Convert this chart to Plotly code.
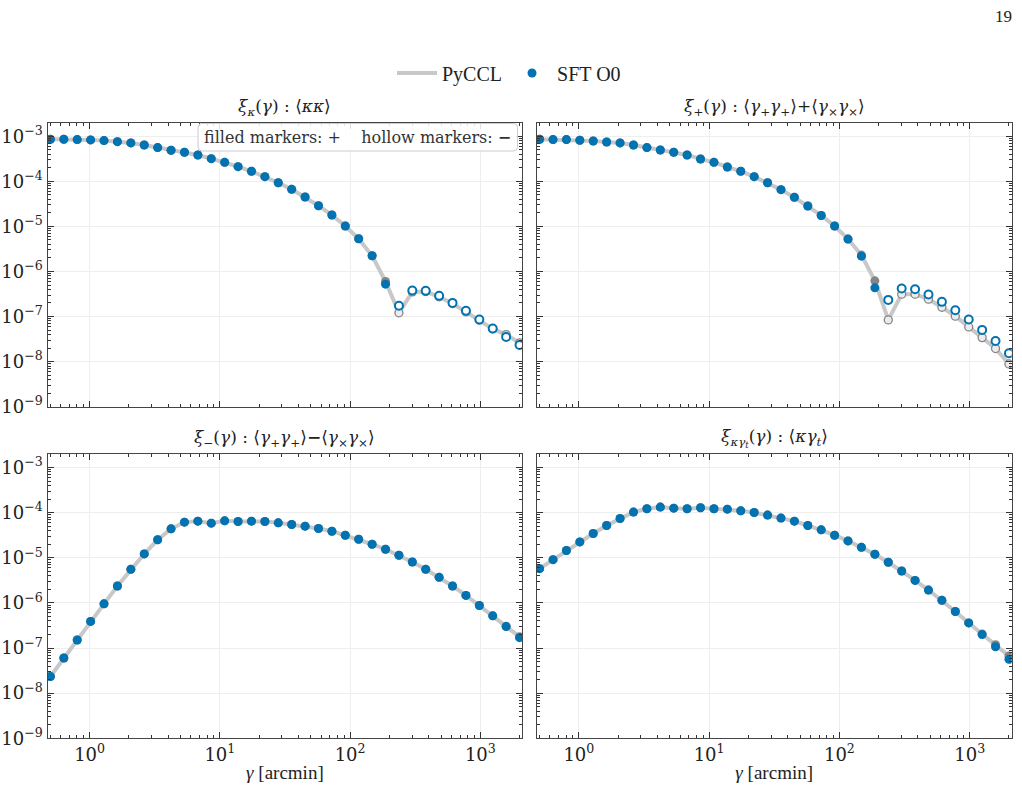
import plotly.graph_objects as go

# ---------------- data ----------------
theta_arcmin = [0.500, 0.634, 0.803, 1.018, 1.290, 1.635, 2.073, 2.627, 3.330,
                4.221, 5.349, 6.779, 8.591, 10.89, 13.80, 17.49, 22.17, 28.09,
                35.61, 45.13, 57.20, 72.49, 91.88, 116.4, 147.6, 187.1, 237.1,
                300.5, 380.8, 482.6, 611.7, 775.3, 982.6, 1245.0, 1578.0, 2000.0]

xi_kappa_pyccl = [8.57e-4, 8.57e-4, 8.43e-4, 8.30e-4, 8.02e-4, 7.60e-4, 7.11e-4, 6.41e-4, 5.60e-4,
                  4.89e-4, 4.41e-4, 3.85e-4, 3.19e-4, 2.64e-4, 2.12e-4, 1.67e-4, 1.27e-4, 9.33e-5,
                  6.64e-5, 4.49e-5, 2.88e-5, 1.79e-5, 1.02e-5, 5.32e-6, 2.23e-6, 6.00e-7, -1.21e-7,
                  -3.53e-7, -3.60e-7, -2.74e-7, -1.95e-7, -1.27e-7, -8.30e-8, -5.32e-8, -3.98e-8, -2.60e-8]
xi_kappa_sft = [8.57e-4, 8.57e-4, 8.43e-4, 8.30e-4, 8.02e-4, 7.60e-4, 7.11e-4, 6.41e-4, 5.60e-4,
                4.89e-4, 4.41e-4, 3.85e-4, 3.19e-4, 2.64e-4, 2.12e-4, 1.67e-4, 1.27e-4, 9.33e-5,
                6.64e-5, 4.49e-5, 2.88e-5, 1.79e-5, 1.02e-5, 5.32e-6, 2.23e-6, 5.24e-7, -1.73e-7,
                -3.79e-7, -3.72e-7, -2.88e-7, -2.01e-7, -1.34e-7, -8.57e-8, -5.41e-8, -3.53e-8, -2.34e-8]

xi_plus_pyccl = [8.57e-4, 8.43e-4, 8.43e-4, 8.15e-4, 7.87e-4, 7.48e-4, 7.11e-4, 6.41e-4, 5.60e-4,
                 4.97e-4, 4.41e-4, 3.85e-4, 3.13e-4, 2.64e-4, 2.08e-4, 1.67e-4, 1.27e-4, 9.33e-5,
                 6.53e-5, 4.41e-5, 2.83e-5, 1.75e-5, 1.02e-5, 5.24e-6, 2.31e-6, 6.21e-7, -8.43e-8,
                 -3.13e-7, -3.13e-7, -2.43e-7, -1.61e-7, -1.02e-7, -5.89e-8, -3.41e-8, -1.95e-8, -8.87e-9]
xi_plus_sft = [8.57e-4, 8.43e-4, 8.43e-4, 8.15e-4, 7.87e-4, 7.48e-4, 7.11e-4, 6.41e-4, 5.60e-4,
               4.97e-4, 4.41e-4, 3.85e-4, 3.13e-4, 2.64e-4, 2.08e-4, 1.67e-4, 1.27e-4, 9.33e-5,
               6.53e-5, 4.41e-5, 2.83e-5, 1.75e-5, 1.02e-5, 5.24e-6, 2.19e-6, 4.34e-7, -2.34e-7,
               -4.19e-7, -4.05e-7, -3.08e-7, -2.12e-7, -1.38e-7, -8.57e-8, -5.06e-8, -2.88e-8, -1.53e-8]

xi_minus_pyccl = [2.34e-8, 6.03e-8, 1.51e-7, 3.89e-7, 9.55e-7, 2.37e-6, 5.56e-6, 1.22e-5, 2.51e-5,
                  4.39e-5, 6.18e-5, 6.50e-5, 5.87e-5, 6.61e-5, 6.40e-5, 6.50e-5, 6.40e-5, 5.97e-5,
                  5.48e-5, 5.04e-5, 4.47e-5, 3.89e-5, 3.17e-5, 2.58e-5, 2.00e-5, 1.55e-5, 1.14e-5,
                  8.09e-6, 5.56e-6, 3.69e-6, 2.37e-6, 1.47e-6, 8.79e-7, 5.18e-7, 3.05e-7, 1.78e-7]
xi_minus_sft = [2.34e-8, 6.03e-8, 1.51e-7, 3.89e-7, 9.55e-7, 2.37e-6, 5.56e-6, 1.22e-5, 2.51e-5,
                4.39e-5, 6.18e-5, 6.50e-5, 5.87e-5, 6.61e-5, 6.40e-5, 6.50e-5, 6.40e-5, 5.97e-5,
                5.48e-5, 5.04e-5, 4.47e-5, 3.89e-5, 3.17e-5, 2.58e-5, 2.00e-5, 1.55e-5, 1.14e-5,
                8.09e-6, 5.56e-6, 3.69e-6, 2.37e-6, 1.47e-6, 8.79e-7, 5.18e-7, 2.99e-7, 1.70e-7]

xi_kgt_pyccl = [5.75e-6, 9.12e-6, 1.45e-5, 2.25e-5, 3.46e-5, 5.21e-5, 7.45e-5, 1.03e-4, 1.22e-4,
                1.33e-4, 1.26e-4, 1.22e-4, 1.29e-4, 1.22e-4, 1.20e-4, 1.10e-4, 1.01e-4, 8.85e-5,
                7.59e-5, 6.50e-5, 5.21e-5, 4.17e-5, 3.17e-5, 2.37e-5, 1.71e-5, 1.20e-5, 7.96e-6,
                5.11e-6, 3.16e-6, 1.93e-6, 1.14e-6, 6.46e-7, 3.61e-7, 2.06e-7, 1.19e-7, 6.65e-8]
xi_kgt_sft = [5.75e-6, 9.12e-6, 1.45e-5, 2.25e-5, 3.46e-5, 5.21e-5, 7.45e-5, 1.03e-4, 1.22e-4,
              1.33e-4, 1.26e-4, 1.22e-4, 1.29e-4, 1.22e-4, 1.20e-4, 1.10e-4, 1.01e-4, 8.85e-5,
              7.59e-5, 6.50e-5, 5.21e-5, 4.17e-5, 3.17e-5, 2.37e-5, 1.71e-5, 1.20e-5, 7.96e-6,
              5.11e-6, 3.16e-6, 1.93e-6, 1.14e-6, 6.46e-7, 3.61e-7, 1.99e-7, 1.07e-7, 5.62e-8]

panel_titles = ["<i>ξ</i><sub><i>κ</i></sub>(<i>γ</i>) : ⟨<i>κκ</i>⟩",
                "<i>ξ</i><sub>+</sub>(<i>γ</i>) : ⟨<i>γ</i><sub>+</sub><i>γ</i><sub>+</sub>⟩+⟨<i>γ</i><sub>×</sub><i>γ</i><sub>×</sub>⟩",
                "<i>ξ</i><sub>−</sub>(<i>γ</i>) : ⟨<i>γ</i><sub>+</sub><i>γ</i><sub>+</sub>⟩<b>−</b>⟨<i>γ</i><sub>×</sub><i>γ</i><sub>×</sub>⟩",
                "<i>ξ</i><sub><i>κγ<sub>t</sub></i></sub>(<i>γ</i>) : ⟨<i>κγ</i><sub><i>t</i></sub>⟩"]
x_label = "<i>γ</i> [arcmin]"
y_tick_vals = [1e-9, 1e-8, 1e-7, 1e-6, 1e-5, 1e-4, 1e-3]
y_tick_text = ["10<sup>−9</sup>", "10<sup>−8</sup>", "10<sup>−7</sup>", "10<sup>−6</sup>",
               "10<sup>−5</sup>", "10<sup>−4</sup>", "10<sup>−3</sup>"]
x_tick_vals = [1, 10, 100, 1000]
x_tick_text = ["10<sup>0</sup>", "10<sup>1</sup>", "10<sup>2</sup>", "10<sup>3</sup>"]
x_decades = [0.1, 1, 10, 100, 1000]
y_decades = [1e-10, 1e-9, 1e-8, 1e-7, 1e-6, 1e-5, 1e-4, 1e-3]
minor_steps = [2, 3, 4, 5, 6, 7, 8, 9]
x_minor = [d * m for d in x_decades for m in minor_steps]
y_minor = [d * m for d in y_decades for m in minor_steps]

# ---------------- styling ----------------
W, H = 1022, 788
BLUE = "#0173b2"
LINE_GRAY = "#c8c8c8"
DARK_GRAY = "#858585"
SERIF = "DejaVu Serif"
TIMES = "Liberation Serif"

def px_x(p):
    return p / W

def px_y(p):
    return 1 - p / H

panels = [
    dict(pyccl=xi_kappa_pyccl, sft=xi_kappa_sft, xd=(47.5, 522.3), yd=(122.7, 406.7)),
    dict(pyccl=xi_plus_pyccl, sft=xi_plus_sft, xd=(536.7, 1011.7), yd=(122.7, 406.7)),
    dict(pyccl=xi_minus_pyccl, sft=xi_minus_sft, xd=(47.5, 522.3), yd=(454.0, 738.3)),
    dict(pyccl=xi_kgt_pyccl, sft=xi_kgt_sft, xd=(536.7, 1011.7), yd=(454.0, 738.3)),
]

fig = go.Figure()

for i, p in enumerate(panels):
    n = "" if i == 0 else str(i + 1)
    xa, ya = "x" + n, "y" + n
    pyc, sft = p["pyccl"], p["sft"]
    first = (i == 0)
    fig.add_trace(go.Scatter(x=theta_arcmin, y=[abs(v) for v in pyc], mode="lines",
                             line=dict(color=LINE_GRAY, width=4), name="PyCCL",
                             showlegend=first, xaxis=xa, yaxis=ya, hoverinfo="skip"))
    fig.add_trace(go.Scatter(x=theta_arcmin, y=[v if v > 0 else None for v in pyc], mode="markers",
                             marker=dict(color=DARK_GRAY, size=9, line=dict(width=0)),
                             showlegend=False, xaxis=xa, yaxis=ya))
    fig.add_trace(go.Scatter(x=theta_arcmin, y=[-v if v < 0 else None for v in pyc], mode="markers",
                             marker=dict(color="#ececec", size=8, line=dict(color=DARK_GRAY, width=1.3)),
                             showlegend=False, xaxis=xa, yaxis=ya))
    fig.add_trace(go.Scatter(x=theta_arcmin, y=[v if v > 0 else None for v in sft], mode="markers",
                             marker=dict(color=BLUE, size=9, line=dict(width=0)), name="SFT O0",
                             showlegend=first, xaxis=xa, yaxis=ya))
    fig.add_trace(go.Scatter(x=theta_arcmin, y=[-v if v < 0 else None for v in sft], mode="markers",
                             marker=dict(color="white", size=8, line=dict(color=BLUE, width=2)),
                             showlegend=False, xaxis=xa, yaxis=ya))

    bottom = i >= 2
    left = i % 2 == 0
    axis_common = dict(type="log", ticks="inside", mirror="allticks", showline=True,
                       linecolor="#444444", linewidth=1.3, tickcolor="#333333",
                       ticklen=6, tickwidth=1.2, showgrid=True, gridcolor="#eeeeee",
                       gridwidth=1, zeroline=False,
                       tickfont=dict(family=SERIF, size=18, color="#222222"))
    fig.update_layout(**{
        ("xaxis" + n): dict(axis_common, domain=[px_x(p["xd"][0]), px_x(p["xd"][1])],
                            range=[-0.3233, 3.3222], anchor=ya, tickvals=x_tick_vals,
                            ticktext=x_tick_text, showticklabels=bottom,
                            minor=dict(ticks="inside", ticklen=3, tickwidth=1, tickcolor="#333333",
                                       tickvals=x_minor, showgrid=False),
                            title=dict(text=x_label if bottom else "",
                                       font=dict(family=TIMES, size=19, color="#222222"),
                                       standoff=1)),
        ("yaxis" + n): dict(axis_common, domain=[px_y(p["yd"][1]), px_y(p["yd"][0])],
                            range=[-9, -2.699], anchor=xa, tickvals=y_tick_vals,
                            ticktext=y_tick_text, showticklabels=left,
                            minor=dict(ticks="inside", ticklen=3, tickwidth=1, tickcolor="#333333",
                                       tickvals=y_minor, showgrid=False)),
    })
    fig.add_annotation(text=panel_titles[i], xref="paper", yref="paper",
                       x=px_x((p["xd"][0] + p["xd"][1]) / 2), y=px_y(p["yd"][0] - 2),
                       xanchor="center", yanchor="bottom", showarrow=False,
                       font=dict(family=SERIF, size=17, color="#222222"))

# sign-convention box in the first panel
bx0, by0, bx1, by1, r = 198.0, 123.5, 517.5, 151.0, 4.0
path = (f"M {px_x(bx0 + r)},{px_y(by0)} L {px_x(bx1 - r)},{px_y(by0)} "
        f"Q {px_x(bx1)},{px_y(by0)} {px_x(bx1)},{px_y(by0 + r)} "
        f"L {px_x(bx1)},{px_y(by1 - r)} Q {px_x(bx1)},{px_y(by1)} {px_x(bx1 - r)},{px_y(by1)} "
        f"L {px_x(bx0 + r)},{px_y(by1)} Q {px_x(bx0)},{px_y(by1)} {px_x(bx0)},{px_y(by1 - r)} "
        f"L {px_x(bx0)},{px_y(by0 + r)} Q {px_x(bx0)},{px_y(by0)} {px_x(bx0 + r)},{px_y(by0)} Z")
fig.add_shape(type="path", path=path, xref="paper", yref="paper",
              fillcolor="rgba(255,255,255,0.85)", line=dict(color="#cccccc", width=1), layer="above")
fig.add_annotation(text="filled markers: +    hollow markers: <b>−</b>", xref="paper", yref="paper",
                   x=px_x((bx0 + bx1) / 2), y=px_y((by0 + by1) / 2), xanchor="center", yanchor="middle",
                   showarrow=False, font=dict(family=SERIF, size=16, color="#333333"))

# page number
fig.add_annotation(text="19", xref="paper", yref="paper", x=px_x(1014), y=px_y(17),
                   xanchor="right", yanchor="middle", showarrow=False,
                   font=dict(family=TIMES, size=17, color="#222222"))

fig.update_layout(
    template="none", width=W, height=H,
    margin=dict(l=0, r=0, t=0, b=0),
    paper_bgcolor="white", plot_bgcolor="white",
    legend=dict(orientation="h", x=px_x(509), y=px_y(73), xanchor="center", yanchor="middle",
                font=dict(family=TIMES, size=20, color="#222222"), bgcolor="rgba(0,0,0,0)",
                itemwidth=40),
    showlegend=True,
)

fig.write_html("out.html")
